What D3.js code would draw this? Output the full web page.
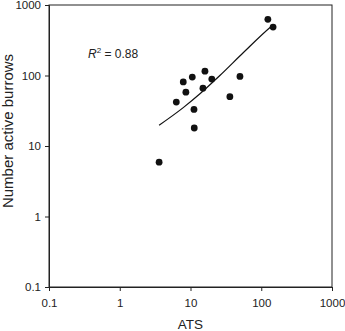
<!DOCTYPE html>
<html>
<head>
<meta charset="utf-8">
<script src="https://cdn.jsdelivr.net/npm/d3@7"></script>
<style>
  body { margin: 0; background: #fff; }
  svg { display: block; font-family: "Liberation Sans", Arial, sans-serif; }
</style>
</head>
<body>
<div id="chart"></div>
<script>
// data
var atsValues = [124, 147, 16, 10.6, 7.9, 20, 50, 8.6, 15, 6.3, 36, 11.2, 11.3, 3.6];
var burrowValues = [627, 487, 115, 95, 81, 89, 97, 58, 66, 42, 50, 33, 18, 5.9];
// fitted line, points
var fitX = [3.6, 7.9, 13.6, 26, 56, 133, 148];
var fitY = [19.7, 35, 55, 100, 212, 480, 525];
var tickValues = [0.1, 1, 10, 100, 1000];

var svgWidth = 345;
var svgHeight = 331;
var margin = { top: 5, right: 13, bottom: 44, left: 49 };
var width = svgWidth - margin.left - margin.right;
var height = svgHeight - margin.top - margin.bottom;

var svg = d3.select("#chart")
    .append("svg")
    .attr("width", svgWidth)
    .attr("height", svgHeight);
var g = svg.append("g")
    .attr("transform", `translate(${margin.left}, ${margin.top})`);

var x = d3.scaleLog().domain([0.1, 1000]).range([0, width]);
var y = d3.scaleLog().domain([0.1, 1000]).range([height, 0]);

var fmt = d => d3.format("~g")(d);

// frame
g.append("rect")
    .attr("width", width)
    .attr("height", height)
    .attr("fill", "none")
    .attr("stroke", "#222")
    .attr("stroke-width", 1);

var xAxis = g.append("g")
    .attr("transform", `translate(0, ${height})`)
    .call(d3.axisBottom(x).tickValues(tickValues).tickFormat(fmt).tickSize(4).tickPadding(8));
var yAxis = g.append("g")
    .call(d3.axisLeft(y).tickValues(tickValues).tickFormat(fmt).tickSize(4).tickPadding(4));

[xAxis, yAxis].forEach(a => {
    a.select(".domain").attr("stroke", "#222");
    a.selectAll(".tick line").attr("stroke", "#222");
    a.selectAll("text")
        .attr("font-size", 11.5)
        .attr("font-family", "Liberation Sans, Arial, sans-serif")
        .attr("fill", "#222");
});

// fitted curve
var line = d3.line()
    .x(d => x(d[0]))
    .y(d => y(d[1]))
    .curve(d3.curveMonotoneX);
g.append("path")
    .datum(fitX.map((v, i) => [v, fitY[i]]))
    .attr("d", line)
    .attr("fill", "none")
    .attr("stroke", "#111")
    .attr("stroke-width", 1.2);

// points
g.selectAll("circle")
    .data(atsValues.map((v, i) => [v, burrowValues[i]]))
    .enter()
    .append("circle")
    .attr("cx", d => x(d[0]))
    .attr("cy", d => y(d[1]))
    .attr("r", 3.4)
    .attr("fill", "#111");

// R squared
var r2 = g.append("text")
    .attr("x", 39)
    .attr("y", 53)
    .attr("font-size", 12)
    .attr("fill", "#222");
r2.append("tspan").attr("font-style", "italic").text("R");
r2.append("tspan").attr("font-size", 8).attr("dy", -5).text("2");
r2.append("tspan").attr("dy", 5).text(" = 0.88");

// axis titles
svg.append("text")
    .attr("x", margin.left + width / 2)
    .attr("y", 329)
    .attr("text-anchor", "middle")
    .attr("font-size", 13.5)
    .attr("fill", "#222")
    .text("ATS");

svg.append("text")
    .attr("transform", `translate(13, 131) rotate(-90)`)
    .attr("text-anchor", "middle")
    .attr("font-size", 15)
    .attr("fill", "#222")
    .text("Number active burrows");
</script>
</body>
</html>
